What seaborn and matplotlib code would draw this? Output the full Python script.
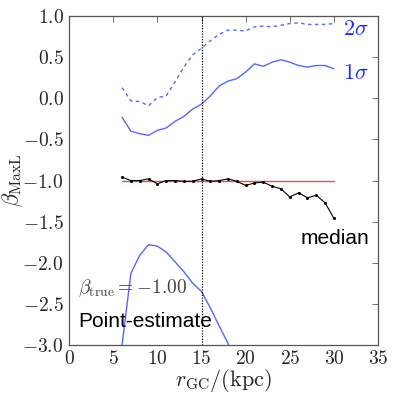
import matplotlib
matplotlib.use("Agg")
import matplotlib.pyplot as plt
import seaborn as sns
import pandas as pd
from matplotlib.ticker import FuncFormatter, MultipleLocator

# ---- data ----
r_gc = list(range(6, 31))
median_beta = [-0.96, -1.00, -1.00, -0.98, -1.04, -1.00, -1.00, -1.01, -1.01, -0.98,
               -1.01, -1.00, -0.98, -1.01, -1.06, -1.03, -1.02, -1.07, -1.10, -1.20,
               -1.15, -1.21, -1.18, -1.27, -1.46]
sigma1_upper = [-0.23, -0.40, -0.43, -0.45, -0.39, -0.36, -0.28, -0.22, -0.13, -0.07,
                0.03, 0.15, 0.21, 0.24, 0.32, 0.42, 0.39, 0.44, 0.47, 0.44,
                0.40, 0.38, 0.40, 0.40, 0.36]
sigma2_upper = [0.13, -0.03, -0.04, -0.09, 0.01, 0.03, 0.20, 0.38, 0.53, 0.61,
                0.70, 0.78, 0.83, 0.83, 0.82, 0.87, 0.88, 0.87, 0.89, 0.91,
                0.92, 0.90, 0.90, 0.90, 0.91]
r_lower = list(range(6, 20))
sigma1_lower = [-3.00, -2.13, -1.91, -1.78, -1.80, -1.87, -1.99, -2.11, -2.25, -2.35,
                -2.55, -2.77, -2.98, -3.40]
beta_true = -1.00
true_x = [6, 30]
vline_x = 15

sns.set_style("white")
plt.rcParams["mathtext.fontset"] = "cm"
plt.rcParams["font.family"] = ["Liberation Sans", "DejaVu Sans"]

fig = plt.figure(figsize=(3.95, 3.95), dpi=100)
ax = fig.add_axes([0.175, 0.127, 0.782, 0.832])

blue = "#3a4cff"
sns.lineplot(data=pd.DataFrame({"r": true_x, "b": [beta_true] * 2}), x="r", y="b",
             ax=ax, color="#ff4444", lw=1.0)
sns.lineplot(data=pd.DataFrame({"r": r_gc, "b": median_beta}), x="r", y="b",
             ax=ax, color="black", lw=0.8, marker="o", markersize=2.2,
             markeredgewidth=0)
sns.lineplot(data=pd.DataFrame({"r": r_gc, "b": sigma1_upper}), x="r", y="b",
             ax=ax, color=blue, lw=1.0, alpha=0.85)
sns.lineplot(data=pd.DataFrame({"r": r_gc, "b": sigma2_upper}), x="r", y="b",
             ax=ax, color=blue, lw=1.0, alpha=0.85, linestyle=(0, (2.5, 2.5)))
sns.lineplot(data=pd.DataFrame({"r": r_lower, "b": sigma1_lower}), x="r", y="b",
             ax=ax, color=blue, lw=1.0, alpha=0.85)
ax.axvline(vline_x, color="black", lw=0.9, linestyle=(0, (1, 1.2)))

ax.set_xlim(0, 35)
ax.set_ylim(-3, 1)
ax.xaxis.set_major_locator(MultipleLocator(5))
ax.yaxis.set_major_locator(MultipleLocator(0.5))
ax.xaxis.set_major_formatter(FuncFormatter(lambda v, p: r"$%d$" % round(v)))
ax.yaxis.set_major_formatter(FuncFormatter(lambda v, p: r"$%.1f$" % v))
ax.tick_params(direction="in", top=True, right=True, length=4, width=0.6,
               color="#555555", labelsize=14, pad=4)
for s in ax.spines.values():
    s.set_color("#555555")
    s.set_linewidth(0.9)

ax.set_xlabel(r"$r_{\rm GC}/({\rm kpc})$", fontsize=16, labelpad=-1)
ax.set_ylabel(r"$\beta_{\rm MaxL}$", fontsize=16, labelpad=-2)

ax.text(31.0, 0.84, r"$2\sigma$", color="#1a2bff", fontsize=16, va="center")
ax.text(31.0, 0.30, r"$1\sigma$", color="#1a2bff", fontsize=16, va="center")
ax.text(26.2, -1.70, "median", color="black", fontsize=15, va="center")
ax.text(1.0, -2.31, r"$\beta_{\rm true} = -1.00$", color="#444444", fontsize=14,
        va="center")
ax.text(1.0, -2.72, "Point-estimate", color="black", fontsize=15, va="center")

fig.savefig("out.png", dpi=100)
